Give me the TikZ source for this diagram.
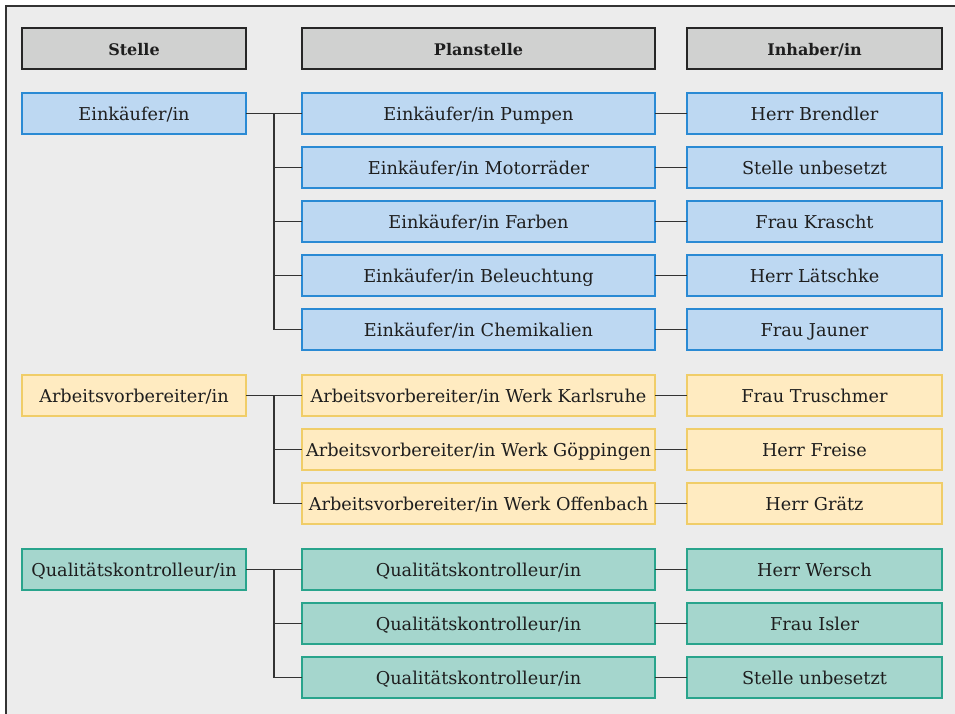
\documentclass[tikz,border=0pt]{standalone}
\usepackage{fontspec}
\setmainfont{DejaVu Serif}
\usepackage{tikz}
\usetikzlibrary{positioning}
\definecolor{bgGray}{HTML}{ECECEC}
\definecolor{frameGray}{HTML}{333333}
\definecolor{textGray}{HTML}{1E1E1E}
\definecolor{headFill}{HTML}{D0D1D0}
\definecolor{blueFill}{HTML}{BDD8F2}
\definecolor{blueLine}{HTML}{2A8AD4}
\definecolor{yellowFill}{HTML}{FFEBC1}
\definecolor{yellowLine}{HTML}{F0CD68}
\definecolor{tealFill}{HTML}{A5D6CD}
\definecolor{tealLine}{HTML}{29A48C}
\tikzstyle{box} = [rectangle, minimum height=41.2pt, inner sep=0pt, outer sep=0pt,
    line width=1.8pt, text height=15pt, text depth=0.6pt, text=textGray,
    font=\fontsize{17.7}{20}\selectfont]
\tikzstyle{stelle} = [box, minimum width=224.2pt]
\tikzstyle{plan} = [box, minimum width=353.2pt]
\tikzstyle{inhaber} = [box, minimum width=255.2pt]
\tikzstyle{head} = [draw=black!85, fill=headFill, font=\fontsize{16}{19}\selectfont\bfseries]
\tikzstyle{blue} = [draw=blueLine, fill=blueFill]
\tikzstyle{yellow} = [draw=yellowLine, fill=yellowFill]
\tikzstyle{teal} = [draw=tealLine, fill=tealFill]
\tikzstyle{link} = [draw=frameGray, line width=1.8pt]

\begin{document}
\begin{tikzpicture}[x=1pt, y=-1pt]
    \useasboundingbox (0,0) rectangle (955,714);
    \fill [bgGray] (6,6) rectangle (955,714);
    \draw [frameGray, line width=1.8pt] (6,714) -- (6,6) -- (955,6);

    \node [plan, head] (plHead) at (478.5,48.5) {Planstelle};
    \node [stelle, head, left=55.8pt of plHead] (stHead) {Stelle};
    \node [inhaber, head, right=31.8pt of plHead] (inHead) {Inhaber/in};

    \node [plan, blue, below=23.8pt of plHead] (einkP1) {Einkäufer/in Pumpen};
    \node [plan, blue, below=12.8pt of einkP1] (einkP2) {Einkäufer/in Motorräder};
    \node [plan, blue, below=12.8pt of einkP2] (einkP3) {Einkäufer/in Farben};
    \node [plan, blue, below=12.8pt of einkP3] (einkP4) {Einkäufer/in Beleuchtung};
    \node [plan, blue, below=12.8pt of einkP4] (einkP5) {Einkäufer/in Chemikalien};
    \node [stelle, blue, left=55.8pt of einkP1] (eink) {Einkäufer/in};
    \node [inhaber, blue, right=31.8pt of einkP1] (einkH1) {Herr Brendler};
    \node [inhaber, blue, right=31.8pt of einkP2] (einkH2) {Stelle unbesetzt};
    \node [inhaber, blue, right=31.8pt of einkP3] (einkH3) {Frau Krascht};
    \node [inhaber, blue, right=31.8pt of einkP4] (einkH4) {Herr Lätschke};
    \node [inhaber, blue, right=31.8pt of einkP5] (einkH5) {Frau Jauner};

    \node [plan, yellow, below=24.8pt of einkP5] (arbP1) {Arbeitsvorbereiter/in Werk Karlsruhe};
    \node [plan, yellow, below=12.8pt of arbP1] (arbP2) {Arbeitsvorbereiter/in Werk Göppingen};
    \node [plan, yellow, below=12.8pt of arbP2] (arbP3) {Arbeitsvorbereiter/in Werk Offenbach};
    \node [stelle, yellow, left=55.8pt of arbP1] (arb) {Arbeitsvorbereiter/in};
    \node [inhaber, yellow, right=31.8pt of arbP1] (arbH1) {Frau Truschmer};
    \node [inhaber, yellow, right=31.8pt of arbP2] (arbH2) {Herr Freise};
    \node [inhaber, yellow, right=31.8pt of arbP3] (arbH3) {Herr Grätz};

    \node [plan, teal, below=24.8pt of arbP3] (qualP1) {Qualitätskontrolleur/in};
    \node [plan, teal, below=12.8pt of qualP1] (qualP2) {Qualitätskontrolleur/in};
    \node [plan, teal, below=12.8pt of qualP2] (qualP3) {Qualitätskontrolleur/in};
    \node [stelle, teal, left=55.8pt of qualP1] (qual) {Qualitätskontrolleur/in};
    \node [inhaber, teal, right=31.8pt of qualP1] (qualH1) {Herr Wersch};
    \node [inhaber, teal, right=31.8pt of qualP2] (qualH2) {Frau Isler};
    \node [inhaber, teal, right=31.8pt of qualP3] (qualH3) {Stelle unbesetzt};

    \coordinate [right=27.9pt of eink] (einkT);
    \coordinate [right=27.9pt of arb] (arbT);
    \coordinate [right=27.9pt of qual] (qualT);

    \draw [link] (eink) -- (einkP1);
    \draw [link] (einkT) |- (einkP2);
    \draw [link] (einkT) |- (einkP3);
    \draw [link] (einkT) |- (einkP4);
    \draw [link] (einkT) |- (einkP5);
    \draw [link] (arb) -- (arbP1);
    \draw [link] (arbT) |- (arbP2);
    \draw [link] (arbT) |- (arbP3);
    \draw [link] (qual) -- (qualP1);
    \draw [link] (qualT) |- (qualP2);
    \draw [link] (qualT) |- (qualP3);

    \draw [link] (einkP1) -- (einkH1);
    \draw [link] (einkP2) -- (einkH2);
    \draw [link] (einkP3) -- (einkH3);
    \draw [link] (einkP4) -- (einkH4);
    \draw [link] (einkP5) -- (einkH5);
    \draw [link] (arbP1) -- (arbH1);
    \draw [link] (arbP2) -- (arbH2);
    \draw [link] (arbP3) -- (arbH3);
    \draw [link] (qualP1) -- (qualH1);
    \draw [link] (qualP2) -- (qualH2);
    \draw [link] (qualP3) -- (qualH3);
\end{tikzpicture}
\end{document}
